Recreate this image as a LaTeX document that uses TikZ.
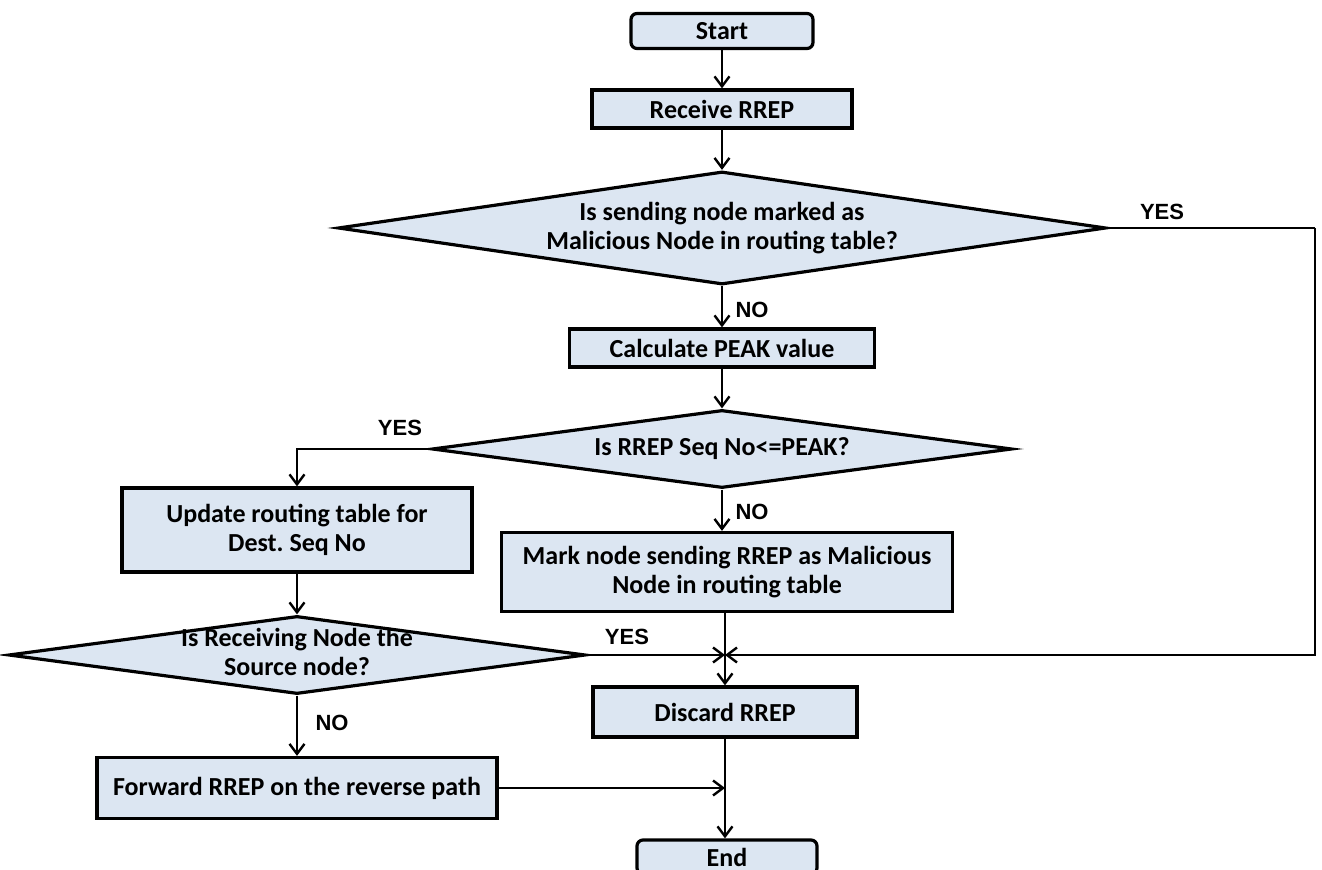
\documentclass[tikz,border=0pt]{standalone}
\usepackage{fontspec}
\setmainfont{Carlito}
\newfontfamily\labelfont{Liberation Sans}
\usetikzlibrary{arrows.meta, positioning, shapes.geometric, calc}
\definecolor{boxfill}{RGB}{220,230,242}
\frenchspacing

\begin{document}
\begin{tikzpicture}[x=0.5pt, y=-0.5pt,
  process/.style={draw, line width=1.6pt, fill=boxfill, align=center, inner sep=0pt,
    font=\bfseries\fontsize{13}{14.8}\selectfont},
  terminal/.style={process, rounded corners=3pt},
  decision/.style={diamond, draw, line width=1.6pt, fill=boxfill, inner sep=0pt},
  dtext/.style={align=center, font=\bfseries\fontsize{13}{14.8}\selectfont},
  flow/.style={line width=1.2pt, -{Straight Barb[length=5pt, width=7.5pt]}},
  answer/.style={font=\labelfont\bfseries\fontsize{11}{13}\selectfont}]
\useasboundingbox (0,0) rectangle (1322,870);

% boxes
\node[terminal, minimum width=91pt, minimum height=17.5pt] (start) at (722,31) {Start};
\node[process, minimum width=130pt, minimum height=19pt] (recv) at (722,109) {Receive RREP};
\node[decision, minimum width=384pt, minimum height=56.5pt] (ismal) at (722,228) {};
\node[dtext] at (ismal) {Is sending node marked as\\Malicious Node in routing table?};
\node[process, minimum width=152.5pt, minimum height=19pt] (peak) at (722,348) {Calculate PEAK value};
\node[decision, minimum width=290pt, minimum height=39pt] (isseq) at (722,449) {};
\node[dtext] at (isseq) {Is RREP Seq No<=PEAK?};
\node[process, minimum width=175pt, minimum height=42pt] (upd) at (297,530) {Update routing table for\\Dest. Seq No};
\node[process, minimum width=225.5pt, minimum height=39.5pt] (mark) at (727,572) {Mark node sending RREP as Malicious\\Node in routing table};
\node[decision, minimum width=288.5pt, minimum height=39pt] (issrc) at (297,655) {};
\node[dtext] at (297,652) {Is Receiving Node the\\Source node?};
\node[process, minimum width=132pt, minimum height=25pt] (disc) at (725,712) {Discard RREP};
\node[process, minimum width=200pt, minimum height=30.5pt] (fwd) at (297,788) {Forward RREP on the reverse path};
\node[terminal, minimum width=90pt, minimum height=17pt] (end) at (727,857) {End};

% connectors
\coordinate (j1) at (725,655);
\coordinate (bend) at (1315,228);
\draw[flow] (start) -- (recv);
\draw[flow] (recv) -- (ismal);
\draw[flow] (ismal) -- (peak);
\draw[line width=1.2pt] (ismal.east) -- (bend);
\draw[flow] (bend) |- (j1);
\draw[flow] (peak) -- (isseq);
\draw[flow] (isseq.west) -| (upd.north);
\draw[flow] (isseq.south) -- (isseq.south |- mark.north);
\draw[flow] (upd) -- (issrc);
\draw[flow] (issrc.east) -- (j1);
\draw[flow] (mark.south -| disc.north) -- (disc.north);
\draw[flow] (issrc) -- (fwd);
\coordinate (j2) at (disc.south |- fwd.east);
\draw[flow] (fwd.east) -- (j2);
\draw[flow] (disc.south) -- (disc.south |- end.north);

% labels
\node[answer] at (1162,212) {YES};
\node[answer] at (752,310) {NO};
\node[answer] at (400,428) {YES};
\node[answer] at (752,512) {NO};
\node[answer] at (627,637) {YES};
\node[answer] at (332,723) {NO};
\end{tikzpicture}
\end{document}
